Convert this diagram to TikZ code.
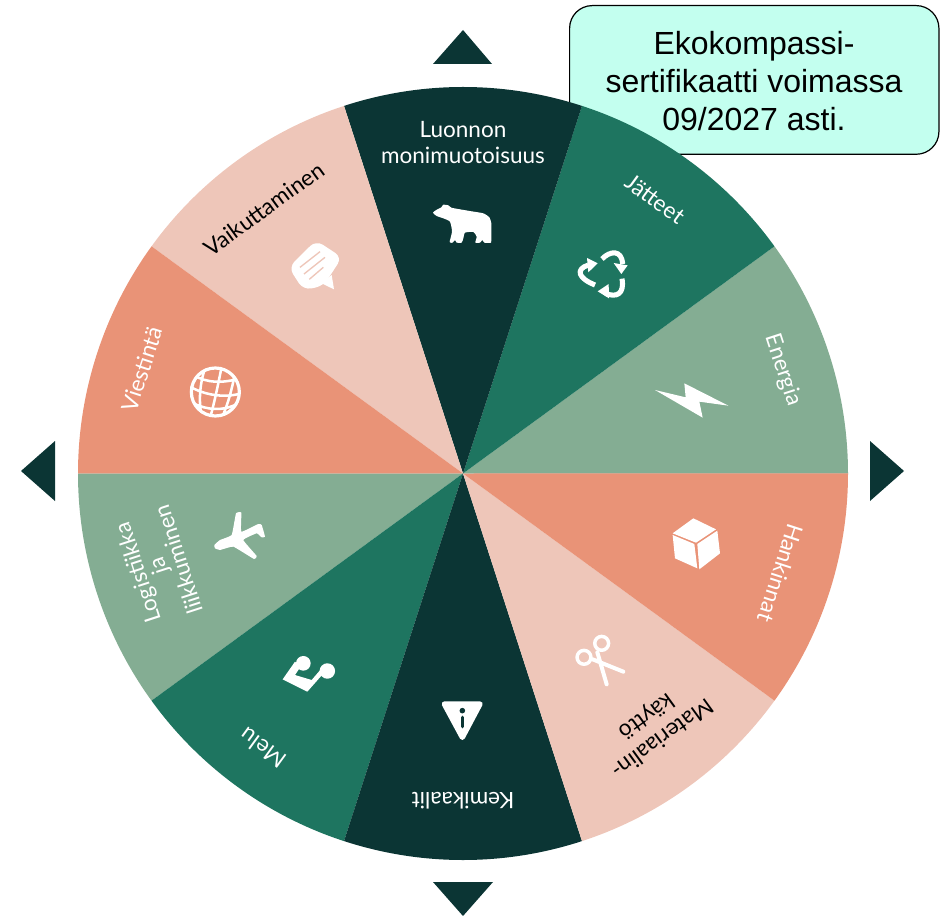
\documentclass[tikz,border=0pt]{standalone}
\usepackage{fontspec}
\setmainfont{Liberation Sans}
\newfontfamily\wheelfont{Lato}
\definecolor{cdark}{HTML}{0B3534}
\definecolor{cgreen}{HTML}{1E7560}
\definecolor{csage}{HTML}{84AD93}
\definecolor{corange}{HTML}{E99377}
\definecolor{cpink}{HTML}{EEC6B9}
\definecolor{cmint}{HTML}{C3FFEF}
\tikzset{
  slabel/.style={font=\wheelfont\fontsize{16.9}{19.5}\selectfont,align=center,text=white,inner sep=0pt},
  dlabel/.style={slabel,text=black},
  tri/.style={fill=cdark},
  icon/.style={fill=white,draw=none},
  iconline/.style={draw=white,line cap=round,line join=round,fill=none},
}
\begin{document}
\begin{tikzpicture}[x=0.75pt,y=-0.75pt]
\useasboundingbox (0,0) rectangle (943,916);
% certificate box (behind wheel)
\node[draw=black,line width=0.9pt,fill=cmint,rounded corners=17pt,minimum width=277pt,minimum height=111.5pt,inner sep=0pt,anchor=north west] (cert) at (569,5) {};
% wheel
\begin{scope}[shift={(463,473.5)},x=0.75pt,y=0.75pt]
\foreach \a/\c in {0/csage,36/cgreen,72/cdark,108/cpink,144/corange,180/csage,216/cgreen,252/cdark,288/cpink,324/corange}{
  \pgfmathsetmacro\b{\a+36}
  \fill[\c] (0,0) -- (\a:385 and 386.5) arc[start angle=\a,end angle=\b,x radius=288.75pt,y radius=289.9pt] -- cycle;
}
\end{scope}
\node[font=\fontsize{24}{28.5}\selectfont,align=center,inner sep=0pt] (certtext) at (754,81) {Ekokompassi-\\sertifikaatti voimassa\\09/2027 asti.};
% arrows
\fill[tri] (433,64) -- (492,64) -- (463,30) -- cycle;
\fill[tri] (433,882) -- (493,882) -- (463,916) -- cycle;
\fill[tri] (55,441) -- (55,501) -- (21,471) -- cycle;
\fill[tri] (870,441) -- (870,501) -- (904,471) -- cycle;
% labels
\node[slabel] (luonto) at (463,143) {Luonnon\\monimuotoisuus};
\node[slabel,rotate=-36] (jatteet) at (655,199) {Jätteet};
\node[slabel,rotate=-72] (energia) at (783,370) {Energia};
\node[slabel,rotate=-108] (hankinnat) at (781,573) {Hankinnat};
\node[dlabel,rotate=-144,font=\wheelfont\fontsize{16.9}{20}\selectfont] (materiaali) at (654,727) {Materiaalin-\\käyttö};
\node[slabel,rotate=180] (kemikaalit) at (463,801) {Kemikaalit};
\node[slabel,rotate=144] (melu) at (263,748) {Melu};
\node[slabel,rotate=108,font=\wheelfont\fontsize{16.9}{16}\selectfont] (logistiikka) at (158,566) {Logistiikka\\ja\\liikkuminen};
\node[slabel,rotate=72] (viestinta) at (142,369) {Viestintä};
\node[dlabel,rotate=36] (vaikuttaminen) at (264,209) {Vaikuttaminen};
% icons
\begin{scope}[shift={(190,150)},x=0.25pt,y=-0.25pt]
  % speech bubble
  \fill[icon,rounded corners=6pt] (296,352) -- (378,271) -- (456,322) -- (400,408) -- (340,420) -- cycle;
  \fill[icon] (395,400) -- (432,418) -- (425,375) -- cycle;
  \draw[draw=cpink,line width=1pt] (330,352) -- (390,305) (342,372) -- (405,322) (358,388) -- (400,352);
\end{scope}
\begin{scope}[shift={(280,90)},x=0.25pt,y=-0.25pt]
  % bear
  \fill[icon] plot[smooth cycle,tension=.35] coordinates {(459,368)(472,358)(484,352)(490,344)(505,346)(514,353)(540,358)(575,364)(610,370)(628,382)(634,400)(634,440)(633,458)(613,458)(607,450)(600,458)(586,458)(590,440)(580,426)(555,428)(550,445)(545,458)(530,458)(525,450)(518,458)(509,456)(516,425)(510,395)(490,385)(470,378)};
  % recycle
  \draw[iconline,line width=3.8pt,line cap=butt] (966,507) .. controls (990,482) and (1025,478) .. (1028,522);
  \fill[icon] (1001,519) -- (1043,526) -- (1024,552) -- cycle;
  \draw[iconline,line width=3.8pt,line cap=butt] (1026,566) .. controls (1034,612) and (1010,624) .. (976,610);
  \fill[icon] (986,582) -- (953,604) -- (987,625) -- cycle;
  \draw[iconline,line width=3.8pt,line cap=butt] (945,585) .. controls (895,565) and (885,538) .. (925,525);
  \fill[icon] (921,504) -- (953,520) -- (925,547) -- cycle;
\end{scope}
\begin{scope}[shift={(160,340)},x=0.25pt,y=-0.25pt]
  % globe
  \draw[draw=white,line width=2.4pt] (166,156) circle[radius=18pt];
  \begin{scope}
    \clip (166,156) circle[radius=19pt];
    \draw[draw=white,line width=1.9pt,fill=none]
      (100,105) .. controls (140,130) and (190,130) .. (240,115)
      (90,140) .. controls (135,165) and (190,175) .. (245,160)
      (100,190) .. controls (140,210) and (190,215) .. (235,190)
      (135,85) .. controls (120,130) and (115,180) .. (125,230)
      (185,80) .. controls (175,130) and (165,180) .. (150,235)
      (225,100) .. controls (215,150) and (205,190) .. (185,235);
  \end{scope}
  % plane
  \fill[icon] plot[smooth cycle,tension=.2] coordinates {(163,615)(180,600)(215,585)(228,520)(244,518)(244,575)(295,552)(305,555)(315,590)(305,592)(290,580)(250,600)(290,648)(282,657)(220,620)(180,630)(165,625)};
\end{scope}
\begin{scope}[shift={(640,370)},x=0.25pt,y=-0.25pt]
  % bolt
  \fill[icon] (45,60) -- (137,82) -- (133,40) -- (265,107) -- (178,95) -- (188,143) -- cycle;
  % cube
  \fill[icon] (160,445) -- (228,478) -- (168,518) -- (98,490) -- cycle;
  \fill[icon] (98,495) -- (163,522) -- (172,595) -- (105,565) -- cycle;
  \fill[icon] (172,522) -- (232,482) -- (240,550) -- (178,598) -- cycle;
\end{scope}
\begin{scope}[shift={(270,620)},x=0.25pt,y=-0.25pt]
  % scissors
  \draw[iconline,line width=2.6pt] (995,70) circle[radius=5.2pt] (942,112) circle[radius=5.2pt];
  \draw[iconline,line width=3pt] (982,97) -- (1010,193) (968,118) -- (1060,155);
  % music
  \fill[icon] (38,178) -- (75,125) -- (92,140) -- (75,165) -- (125,180) -- (155,145) -- (165,155) -- (112,215) -- cycle;
  \fill[icon] (100,130) circle[radius=5.5pt] (172,153) circle[radius=5.8pt];
  % warning
  \path[fill=white,draw=white,line width=4pt,line join=round] (523,252) -- (630,252) -- (577,352) -- cycle;
  \fill[cdark] (577,272) circle[radius=2.1pt];
  \draw[draw=cdark,line width=2.6pt,line cap=round] (577,292) -- (577,320);
\end{scope}
\end{tikzpicture}
\end{document}
